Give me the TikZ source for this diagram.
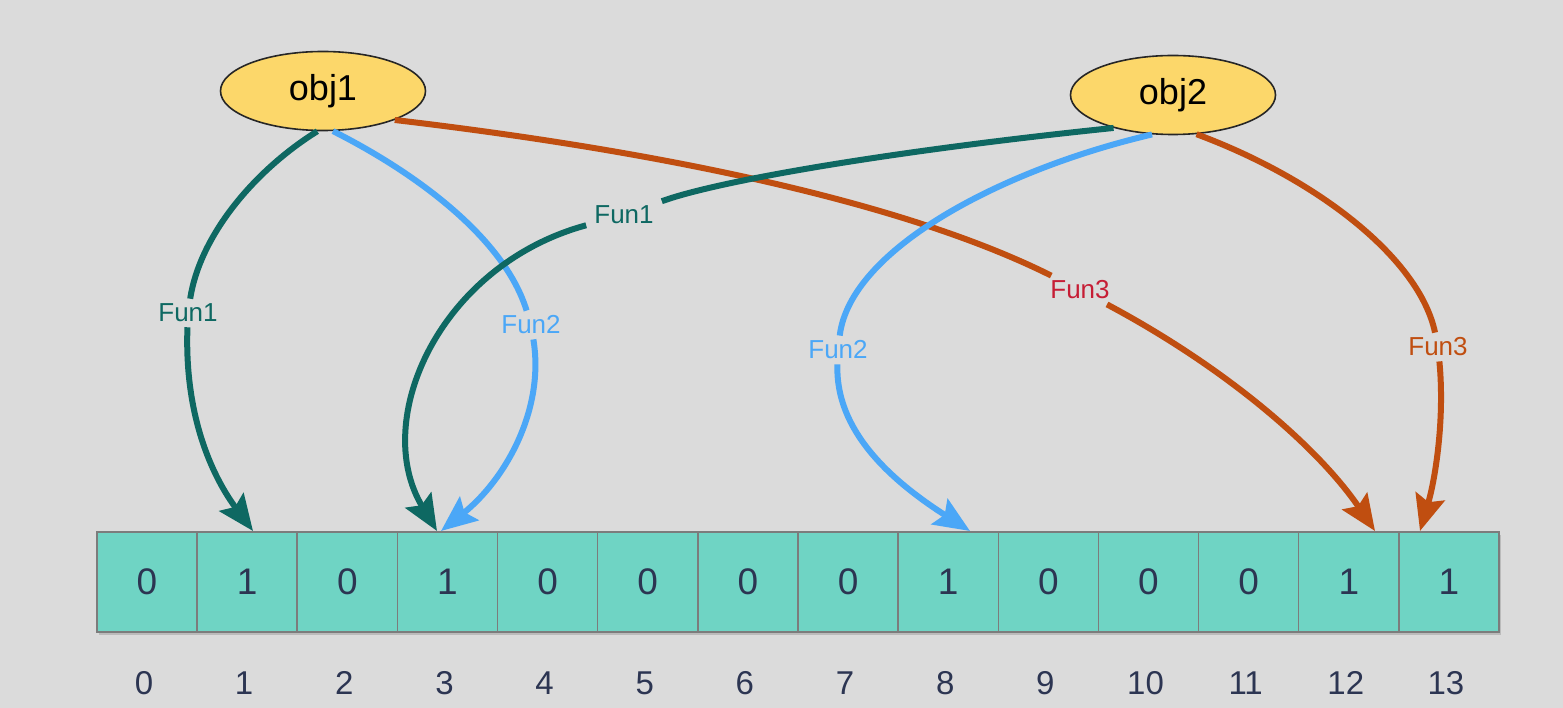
\documentclass[tikz,border=0pt]{standalone}
\usepackage{fontspec}
\setmainfont{Liberation Sans}
\usetikzlibrary{shapes.geometric,arrows.meta,shadows}
\definecolor{bg}{HTML}{DBDBDB}
\definecolor{objfill}{HTML}{FCD76A}
\definecolor{cellfill}{HTML}{6FD4C4}
\definecolor{cellline}{HTML}{7C7C7C}
\definecolor{digit}{HTML}{2C3552}
\definecolor{tealc}{HTML}{0E6862}
\definecolor{bluec}{HTML}{4BA7F7}
\definecolor{orangec}{HTML}{C04E10}
\definecolor{redtxt}{HTML}{C61D35}
\begin{document}
\begin{tikzpicture}[x=1pt,y=-1pt,
  obj/.style={ellipse,draw=black!85,line width=1.6pt,fill=objfill,minimum width=205pt,minimum height=79pt,inner sep=0pt,font=\fontsize{36}{40}\selectfont},
  cell/.style={rectangle,draw=cellline,line width=1.5pt,fill=cellfill,minimum width=100.15pt,minimum height=100pt,inner sep=0pt,text=digit,font=\fontsize{37}{40}\selectfont,drop shadow={shadow xshift=2pt,shadow yshift=-3pt,opacity=0.35}},
  idx/.style={text=digit,font=\fontsize{33}{36}\selectfont,inner sep=0pt},
  lab/.style={font=\fontsize{26}{28}\selectfont,inner xsep=8pt,inner ysep=5pt},
  conn/.style={line width=6pt,-{Stealth[length=36pt,width=30pt,inset=6pt]}},
  seg/.style={line width=6pt}
]
\fill[bg] (0,0) rectangle (1563,708);
\useasboundingbox (0,0) rectangle (1563,708);

% cells and indices
\foreach \v [count=\i from 0] in {0,1,0,1,0,0,0,0,1,0,0,0,1,1} {
  \node[cell] (c\i) at ({147+100.15*\i},582) {\v};
  \node[idx] (i\i) at ({144+100.15*\i},683) {\i};
}

% objects
\node[obj] (obj1) at (323,91) {obj1};
\node[obj] (obj2) at (1173,95) {obj2};

% labels
\node[lab,text=tealc] (l1) at (188,313) {Fun1};
\node[lab,text=bluec] (l2) at (531,325) {Fun2};
\node[lab,text=redtxt] (l3) at (1080,290) {Fun3};
\node[lab,text=tealc] (l4) at (624,215) {Fun1};
\node[lab,text=bluec] (l5) at (838,350) {Fun2};
\node[lab,text=orangec] (l6) at (1438,347) {Fun3};

% arrow tips
\coordinate (t1) at (253,531);
\coordinate (t2) at (441,531);
\coordinate (t3) at (1375,531);
\coordinate (t4) at (437,531);
\coordinate (t5) at (970,531);
\coordinate (t6) at (1420,531);

% obj1 connectors
\draw[seg,orangec] (obj1.-22) .. controls (650,150) and (900,200) .. (l3);
\draw[conn,orangec] (l3) .. controls (1230,370) and (1320,450) .. (t3);
\draw[seg,tealc] (obj1.-98) .. controls (255,170) and (200,235) .. (l1);
\draw[conn,tealc] (l1) .. controls (184,420) and (215,480) .. (t1);
\draw[seg,bluec] (obj1.-76) .. controls (420,175) and (505,240) .. (l2);
\draw[conn,bluec] (l2) .. controls (545,410) and (505,480) .. (t2);
% obj2 connectors
\draw[seg,tealc] (obj2.-151) .. controls (900,150) and (720,180) .. (l4);
\draw[conn,tealc] (l4) .. controls (440,265) and (370,420) .. (t4);
\draw[seg,bluec] (obj2.-118) .. controls (1000,170) and (850,250) .. (l5);
\draw[conn,bluec] (l5) .. controls (835,430) and (890,480) .. (t5);
\draw[seg,orangec] (obj2.-59) .. controls (1320,180) and (1420,260) .. (l6);
\draw[conn,orangec] (l6) .. controls (1445,420) and (1435,480) .. (t6);
\end{tikzpicture}
\end{document}
